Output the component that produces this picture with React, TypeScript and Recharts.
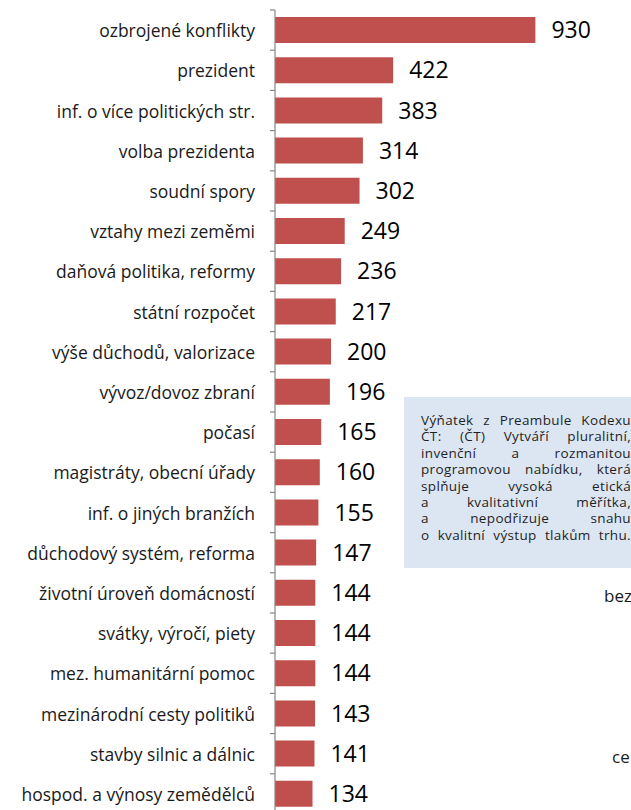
import { Bar, BarChart, LabelList, XAxis, YAxis } from "recharts";

const CATEGORIES = [
  "ozbrojené konflikty",
  "prezident",
  "inf. o více politických str.",
  "volba prezidenta",
  "soudní spory",
  "vztahy mezi zeměmi",
  "daňová politika, reformy",
  "státní rozpočet",
  "výše důchodů, valorizace",
  "vývoz/dovoz zbraní",
  "počasí",
  "magistráty, obecní úřady",
  "inf. o jiných branžích",
  "důchodový systém, reforma",
  "životní úroveň domácností",
  "svátky, výročí, piety",
  "mez. humanitární pomoc",
  "mezinárodní cesty politiků",
  "stavby silnic a dálnic",
  "hospod. a výnosy zemědělců",
];

const COUNTS = [930, 422, 383, 314, 302, 249, 236, 217, 200, 196, 165, 160, 155, 147, 144, 144, 144, 143, 141, 134];

const NOTE_LINES = [
  "Výňatek z Preambule Kodexu",
  "ČT: (ČT) Vytváří pluralitní,",
  "invenční a rozmanitou",
  "programovou nabídku, která",
  "splňuje vysoká etická",
  "a kvalitativní měřítka,",
  "a nepodřizuje snahu",
  "o kvalitní výstup tlakům trhu.",
];

// fragments of neighbouring text cut off at the right edge
const CUT_WORDS = [
  { text: "bez", x: 604, y: 602 },
  { text: "ce", x: 612, y: 763 },
];

const FONT = "'Open Sans', sans-serif";
const W = 631;
const H = 830;
const MARGIN = { top: 10, right: 76, bottom: 16, left: 0 };
const BAND = (H - MARGIN.top - MARGIN.bottom) / CATEGORIES.length;

const data = CATEGORIES.map((name, i) => ({ name, count: COUNTS[i] }));

function CategoryTick(props: any) {
  const { x, y, payload } = props;
  const top = y - BAND / 2;
  return (
    <g>
      <text x={x} y={y} dy={7} textAnchor="end" fontSize={17.5} fill="#1a1a1a" fontFamily={FONT}>
        {payload.value}
      </text>
      <line x1={x + 15} x2={x + 20} y1={top} y2={top} stroke="#868686" strokeWidth={1.2} />
    </g>
  );
}

export default function App() {
  return (
    <div
      style={{
        position: "absolute",
        left: 0,
        top: 0,
        width: W,
        height: 810,
        overflow: "hidden",
        background: "#fff",
        fontFamily: FONT,
      }}
    >
      <BarChart width={W} height={H} data={data} layout="vertical" margin={MARGIN} style={{ fontFamily: FONT }}>
        <XAxis type="number" domain={[0, 1000]} hide />
        <YAxis
          type="category"
          dataKey="name"
          width={275}
          interval={0}
          tickSize={5}
          tickMargin={15}
          tickLine={false}
          axisLine={{ stroke: "#868686", strokeWidth: 1.2 }}
          tick={<CategoryTick />}
        />
        <Bar dataKey="count" fill="#C0504D" barSize={26} isAnimationActive={false}>
          <LabelList dataKey="count" position="right" offset={16} fontSize={23} fill="#000" fontFamily={FONT} />
        </Bar>
      </BarChart>

      <div
        style={{
          position: "absolute",
          left: 404,
          top: 397,
          width: 260,
          height: 171,
          background: "#DCE6F2",
          boxSizing: "border-box",
          paddingLeft: 17,
          paddingTop: 15,
        }}
      >
        <div style={{ width: 210, fontSize: 13.5, letterSpacing: 0.35, lineHeight: "16.4px", color: "#1f1f1f" }}>
          {NOTE_LINES.map((line, i) => (
            <div key={i} style={{ textAlign: "justify", textAlignLast: "justify", whiteSpace: "nowrap" as any }}>
              {line}
            </div>
          ))}
        </div>
      </div>

      <svg width={W} height={810} style={{ position: "absolute", left: 0, top: 0, pointerEvents: "none" }}>
        {CUT_WORDS.map((w) => (
          <text key={w.text} x={w.x} y={w.y} fontSize={17} fill="#1a1a1a" fontFamily={FONT}>
            {w.text}
          </text>
        ))}
      </svg>
    </div>
  );
}
